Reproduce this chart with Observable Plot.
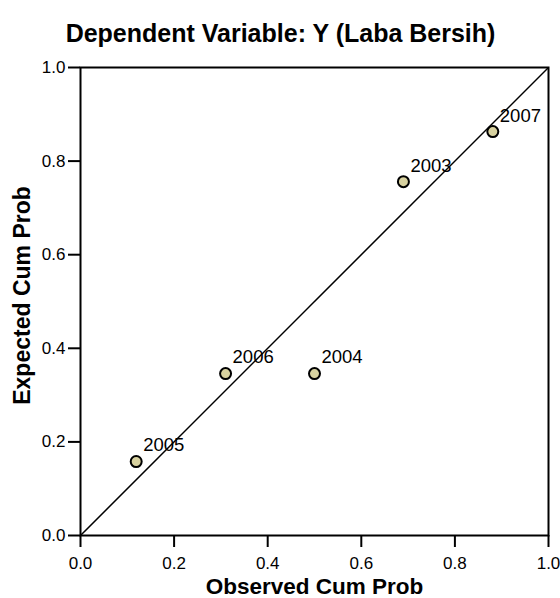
<!DOCTYPE html>
<html>
<head>
<meta charset="utf-8">
<script src="https://cdn.jsdelivr.net/npm/d3@7"></script>
<script src="https://cdn.jsdelivr.net/npm/@observablehq/plot@0.6"></script>
<style>
  html, body { margin: 0; padding: 0; background: #fff; }
  svg { display: block; }
</style>
</head>
<body>
<div id="chart"></div>
<script>
const years = ["2005", "2006", "2004", "2003", "2007"];
const observed = [0.119, 0.310, 0.500, 0.690, 0.881];
const expected = [0.158, 0.346, 0.346, 0.756, 0.863];
const tickValues = [0, 0.2, 0.4, 0.6, 0.8, 1.0];
const domain = [0, 1];
const title = "Dependent Variable: Y (Laba Bersih)";
const xLabel = "Observed Cum Prob";
const yLabel = "Expected Cum Prob";

const data = years.map((yr, i) => ({year: yr, x: observed[i], y: expected[i]}));
const font = "'Liberation Sans', Arial, Helvetica, sans-serif";

const chart = Plot.plot({
  width: 560,
  height: 598,
  marginLeft: 80,
  marginRight: 12,
  marginTop: 67,
  marginBottom: 63,
  style: {fontFamily: font, color: "#000", background: "#fff", overflow: "visible"},
  x: {domain, ticks: tickValues},
  y: {domain, ticks: tickValues},
  marks: [
    Plot.link([domain], {x1: d => d[0], y1: d => d[0], x2: d => d[1], y2: d => d[1], stroke: "#000", strokeWidth: 1.5}),
    Plot.frame({stroke: "#000", strokeWidth: 2}),
    Plot.axisX({ticks: tickValues, tickFormat: d3.format(".1f"), tickSize: 12, tickPadding: 9, fontSize: 17, strokeWidth: 2, label: null}),
    Plot.axisY({ticks: tickValues, tickFormat: d3.format(".1f"), tickSize: 12, tickPadding: 3, fontSize: 17, strokeWidth: 2, label: null}),
    Plot.dot(data, {x: "x", y: "y", r: 5.5, fill: "#d8d2a0", stroke: "#000", strokeWidth: 2}),
    Plot.text(data, {x: "x", y: "y", text: "year", dx: 7, dy: -16, textAnchor: "start", fontSize: 18.5}),
    Plot.text([title], {text: d => d, frameAnchor: "top", lineAnchor: "middle", dx: -34, dy: -34, fontSize: 25, fontWeight: "bold"}),
    Plot.text([xLabel], {text: d => d, frameAnchor: "bottom", lineAnchor: "middle", dy: 51, fontSize: 22.5, fontWeight: "bold"}),
    Plot.text([yLabel], {text: d => d, frameAnchor: "left", textAnchor: "middle", lineAnchor: "middle", dx: -58, dy: -6, rotate: -90, fontSize: 23, fontWeight: "bold"})
  ]
});
document.getElementById("chart").appendChild(chart);
</script>
</body>
</html>
